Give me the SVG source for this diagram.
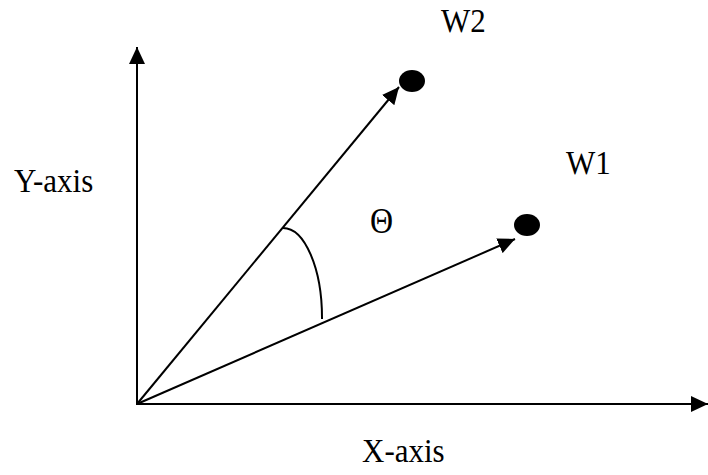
<svg xmlns="http://www.w3.org/2000/svg" width="708" height="475" viewBox="0 0 708 475">
<defs>
<marker id="ah" markerWidth="18" markerHeight="16" refX="17" refY="8" orient="auto" markerUnits="userSpaceOnUse">
<path d="M0,0 L17,8 L0,16 Z" fill="#000"/>
</marker>
<style>
text{font-family:'Liberation Serif','Times New Roman',serif;font-size:31px;fill:#000}
.l{stroke:#000;stroke-width:2;fill:none}
</style>
</defs>
<rect width="708" height="475" fill="#fff"/>
<g id="connectors">
<line class="l" x1="137" y1="404" x2="137" y2="47" marker-end="url(#ah)"/>
<line class="l" x1="136" y1="404" x2="708" y2="404" marker-end="url(#ah)"/>
<line class="l" x1="137" y1="404" x2="399" y2="87" marker-end="url(#ah)"/>
<line class="l" x1="137" y1="404" x2="515" y2="239" marker-end="url(#ah)"/>
<path class="l" d="M283,228 A39,90 0 0 1 322,319"/>
</g>
<g id="w2"><ellipse cx="412" cy="81" rx="13" ry="11" fill="#000"/><text transform="translate(441,32) scale(1,1.1)">W2</text></g>
<g id="w1"><ellipse cx="527" cy="225" rx="13" ry="11" fill="#000"/><text transform="translate(566,174) scale(1,1.1)">W1</text></g>
<text id="theta" transform="translate(370,233) scale(1,1.12)" style="font-size:32px">Θ</text>
<text id="yaxis" transform="translate(14,192) scale(1,1.1)">Y-axis</text>
<text id="xaxis" transform="translate(362,462) scale(1,1.1)">X-axis</text>
</svg>
